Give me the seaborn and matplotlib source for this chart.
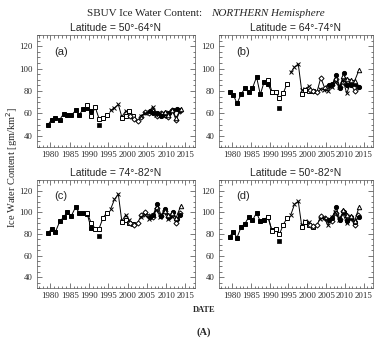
import matplotlib
matplotlib.use("Agg")
import matplotlib.pyplot as plt
import seaborn as sns
from matplotlib.ticker import MultipleLocator

# ---------------- data ----------------
panel_titles = ["Latitude = 50°-64°N", "Latitude = 64°-74°N",
                "Latitude = 74°-82°N", "Latitude = 50°-82°N"]
panel_tags = ["(a)", "(b)", "(c)", "(d)"]

years_n7 = [1979.3, 1980.3, 1981.3, 1982.4, 1983.4, 1984.4, 1985.4, 1986.5,
            1987.5, 1988.5, 1989.5, 1990.5]
years_n11a = [1989.6, 1990.6, 1991.6, 1992.6, 1993.6, 1994.6]
years_low = [1992.6]
years_n9 = [1995.6, 1996.6, 1997.6, 1998.5, 1999.5, 2000.5]
years_n11b = [1998.5, 1999.5, 2000.5, 2001.5]
years_n16 = [2000.6, 2001.6, 2002.6, 2003.6, 2004.6, 2005.6, 2006.6, 2007.6,
             2008.6, 2009.6, 2010.6, 2011.6, 2012.6, 2013.6]
years_n17 = [2003.5, 2004.5, 2005.5, 2006.5, 2007.5, 2008.5, 2009.5, 2010.5, 2011.5]
years_n18 = [2005.7, 2006.7, 2007.7, 2008.7, 2009.7, 2010.7, 2011.7, 2012.7, 2013.7]
years_n19 = [2009.6, 2010.6, 2011.6, 2012.6, 2013.8]

# panel (a) 50-64N
n7_a = [49.5, 54.5, 56.2, 54.4, 59.7, 58.8, 58.2, 62.6, 58.8, 64.0, 64.5, 62.0]
n11a_a = [67.9, 57.4, 65.6, 55.3, 56.2, 58.2]
low_a = [49.4]
n9_a = [62.6, 65.0, 68.0, 57.0, 62.0, 62.0]
n11b_a = [56.0, 57.5, 62.0, 58.0]
n16_a = [58, 55, 53, 57, 61, 60, 62, 58, 60, 59, 57, 63, 54, 62]
n17_a = [58, 60, 61, 66, 59, 60, 58, 61, 62]
n18_a = [62, 60, 60, 58, 60, 60, 63, 64, 63]
n19_a = [61, 59, 63, 56, 64]

# panel (b) 64-74N
n7_b = [78.7, 76.6, 68.9, 77.2, 82.5, 78.7, 82.5, 92.5, 76.9, 88.0, 86.0, 79.3]
n11a_b = [90.2, 79.3, 78.7, 73.4, 78.0, 86.3]
low_b = [64.5]
n9_b = [96.6, 101.3, 104.2, 80.7, 82.2, 84.3]
n11b_b = [77.2, 80.5, 80.0, 80.1]
n16_b = [81, 80, 79.3, 91.9, 82.9, 84.6, 85.7, 91, 83.7, 88, 85, 86, 80, 84]
n17_b = [82, 81, 80, 84, 88, 84, 90, 78, 87]
n18_b = [85, 86, 94, 83, 96, 85, 85, 86, 84]
n19_b = [93, 91, 90, 89, 99]

# panel (c) 74-82N
n7_c = [80.6, 84.8, 82.1, 91.6, 95.5, 100.6, 96.7, 104.8, 99.4, 99.4, 98.8, 86.0]
n11a_c = [99.0, 89.9, 85.0, 85.0, 94.6, 99.7]
low_c = [78.2]
n9_c = [103.0, 112.0, 117.0, 92.0, 97.6, 92.5]
n11b_c = [90.7, 93.0, 90.0, 89.0]
n16_c = [90, 88, 90, 98, 100, 97, 96, 104, 97, 101, 96, 98, 90, 99]
n17_c = [96, 98, 94, 98, 102, 96, 100, 94, 97]
n18_c = [96, 98, 108, 97, 103, 96, 100, 94, 98]
n19_c = [101, 98, 99, 95, 106]

# panel (d) 50-82N
n7_d = [77.6, 81.8, 76.7, 86.6, 89.6, 95.5, 92.5, 99.7, 91.6, 93.1, 96.1, 84.0]
n11a_d = [96.0, 82.7, 84.2, 79.7, 88.7, 94.6]
low_d = [73.7]
n9_d = [97.6, 107.5, 110.4, 88.0, 91.6, 90.7]
n11b_d = [86.6, 91.0, 88.0, 86.6]
n16_d = [88, 87, 88, 96.7, 94.6, 93.1, 92, 99, 94, 101, 93, 95, 88, 97.6]
n17_d = [94, 95, 88, 96, 100, 93, 99, 90, 95]
n18_d = [93, 95, 105, 93, 100, 92, 96, 91, 96]
n19_d = [102, 98, 97, 92, 105]

panels = [
    dict(n7=n7_a, n11a=n11a_a, low=low_a, n9=n9_a, n11b=n11b_a, n16=n16_a, n17=n17_a, n18=n18_a, n19=n19_a),
    dict(n7=n7_b, n11a=n11a_b, low=low_b, n9=n9_b, n11b=n11b_b, n16=n16_b, n17=n17_b, n18=n18_b, n19=n19_b),
    dict(n7=n7_c, n11a=n11a_c, low=low_c, n9=n9_c, n11b=n11b_c, n16=n16_c, n17=n17_c, n18=n18_c, n19=n19_c),
    dict(n7=n7_d, n11a=n11a_d, low=low_d, n9=n9_d, n11b=n11b_d, n16=n16_d, n17=n17_d, n18=n18_d, n19=n19_d),
]

# series: key, years, marker, facecolor, markersize
series = [
    ("n7", years_n7, "s", "black", 3.3),
    ("n11a", years_n11a, "s", "white", 3.4),
    ("n9", years_n9, "x", "black", 3.4),
    ("n11b", years_n11b, "s", "white", 3.4),
    ("n16", years_n16, "D", "white", 2.6),
    ("n17", years_n17, "x", "black", 3.2),
    ("n18", years_n18, "o", "black", 3.0),
    ("n19", years_n19, "^", "white", 3.2),
]

# ---------------- figure ----------------
sns.set_style("ticks")
W, H = 389, 347
fig = plt.figure(figsize=(W / 100, H / 100), dpi=100)

boxes = [(37, 35, 195, 147), (219, 35, 373, 147),
         (37, 180, 195, 288), (219, 180, 373, 288)]

serif = ["Liberation Serif", "DejaVu Serif"]
sans = ["Liberation Sans", "DejaVu Sans"]

for i, (x0, y0, x1, y1) in enumerate(boxes):
    ax = fig.add_axes([x0 / W, 1 - y1 / H, (x1 - x0) / W, (y1 - y0) / H])
    d = panels[i]
    for key, yrs, mk, fc, ms in series:
        sns.lineplot(x=yrs, y=d[key], ax=ax, color="black", linewidth=0.7,
                     marker=mk, markersize=ms, markerfacecolor=fc,
                     markeredgecolor="black", markeredgewidth=0.7,
                     estimator=None, sort=False, legend=False)
    sns.scatterplot(x=years_low, y=d["low"], ax=ax, marker="s", s=10,
                    color="black", edgecolor="black", linewidth=0.5, legend=False)

    ax.set_xlim(1976.5, 2017.5)
    ax.set_ylim(30, 130)
    ax.xaxis.set_major_locator(MultipleLocator(5))
    ax.xaxis.set_minor_locator(MultipleLocator(1))
    ax.yaxis.set_minor_locator(MultipleLocator(5))
    ax.set_xticks([1980, 1985, 1990, 1995, 2000, 2005, 2010, 2015])
    ax.set_yticks([40, 60, 80, 100, 120])
    ax.tick_params(which="both", direction="in", top=True, right=True,
                   width=0.5, color="#444444")
    ax.tick_params(which="major", length=3.5, labelsize=6.3, pad=3)
    ax.tick_params(which="minor", length=1.8)
    for lab in ax.get_xticklabels() + ax.get_yticklabels():
        lab.set_fontfamily(serif)
    for sp in ax.spines.values():
        sp.set_linewidth(0.5)
        sp.set_color("#555555")
    ax.set_xlabel("")
    ax.set_ylabel("")
    ax.set_title(panel_titles[i], fontsize=7.5, family=sans, pad=3)
    ax.text(0.11, 0.85, panel_tags[i], transform=ax.transAxes, fontsize=8,
            family=sans, ha="left", va="center")

fig.text(202 / W, 1 - 13 / H, "SBUV Ice Water Content:", ha="right", va="center",
         fontsize=8, family=serif)
fig.text(211 / W, 1 - 13 / H, "NORTHERN Hemisphere", ha="left", va="center",
         fontsize=8, family=serif, style="italic")
fig.text(12 / W, 1 - 167 / H, "Ice Water Content [gm/km$^2$]", rotation=90,
         ha="center", va="center", fontsize=7.5, family=serif)
fig.text(204 / W, 1 - 310 / H, "DATE", ha="center", va="center",
         fontsize=6, family=serif, weight="bold")
fig.text(204 / W, 1 - 332 / H, "(A)", ha="center", va="center",
         fontsize=7.5, family=serif, weight="bold")

fig.savefig("out.png", dpi=100)
